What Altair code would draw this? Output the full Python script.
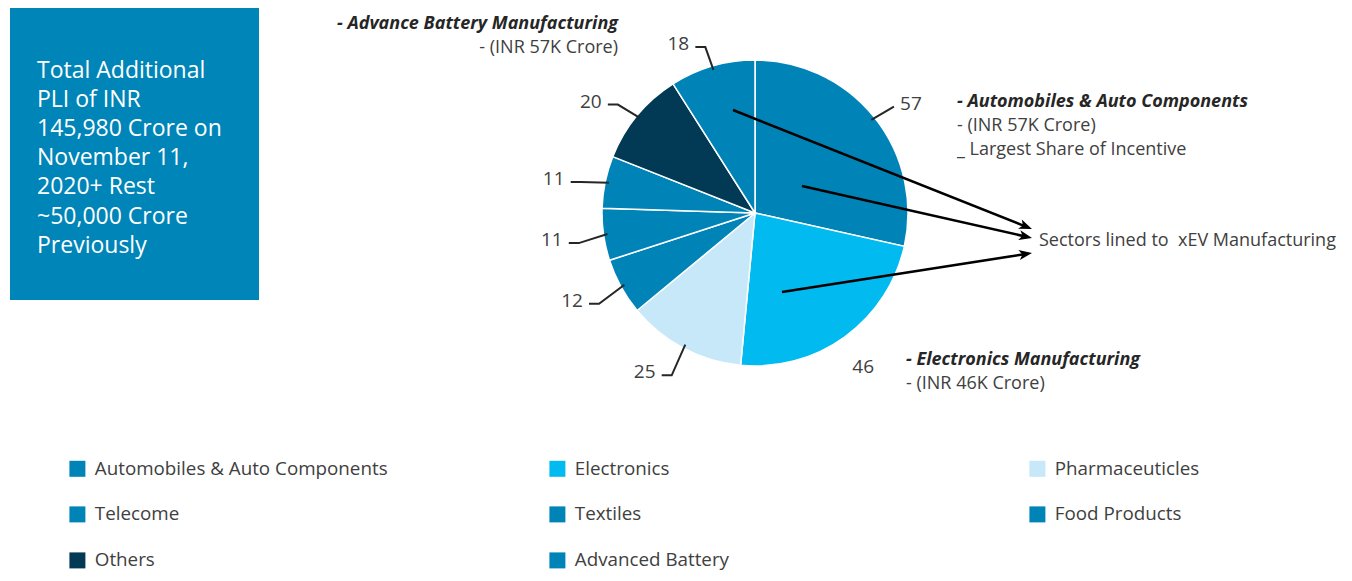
import math
import altair as alt
import pandas as pd

# ---------------- data ----------------
categories = ["Automobiles & Auto Components", "Electronics", "Pharmaceuticles",
              "Telecome", "Textiles", "Food Products", "Others", "Advanced Battery"]
values = [57, 46, 25, 12, 11, 11, 20, 18]
colors = ["#0084B8", "#00BAF0", "#C6E8F8", "#0084B8", "#0084B8", "#0084B8", "#023A56", "#0084B8"]

box_lines = ["Total Additional", "PLI of INR", "145,980 Crore on", "November 11,",
             "2020+ Rest", "~50,000 Crore", "Previously"]

FONT = "Open Sans"
FS = 19
NFS = 18
OFF = 8                      # page margin
W, H = 1336, 565
CX, CY, R = 755 - OFF, 213 - OFF, 153

df = pd.DataFrame({"category": categories, "value": values, "idx": list(range(len(values)))})

# ---------------- value labels + leader lines (derived from the slice angles) ----------------
total = sum(values)
lead_rows, lab_rows = [], []
cum = 0
for c, v in zip(categories, values):
    mid = (cum + v / 2) / total * 2 * math.pi
    cum += v
    s, co = math.sin(mid), -math.cos(mid)
    side = -1 if s < 0 else 1
    if c == "Electronics":
        lab_rows.append({"x": CX + s * 184, "y": CY + co * 184 + 5, "text": str(v)})
        continue
    p1 = (CX + s * 149, CY + co * 149)
    p2 = (CX + s * 178, CY + co * 178 + 5)
    stub = 10 if side < 0 else 0
    p3 = (p2[0] + side * stub, p2[1])
    for k, p in enumerate([p1, p2, p3]):
        lead_rows.append({"category": c, "k": k, "x": p[0], "y": p[1]})
    lab_rows.append({"x": p3[0] + side * 17, "y": p3[1] - 3, "text": str(v)})
lead_df = pd.DataFrame(lead_rows)
lab_df = pd.DataFrame(lab_rows)

# ---------------- annotation arrows ----------------
arrow_start = [(733, 110), (802, 186), (782, 292)]
arrow_tip = [(1032, 229), (1032, 238), (1032, 253)]
arr = []
for (x1, y1), (x2, y2) in zip(arrow_start, arrow_tip):
    ang = math.atan2(y2 - y1, x2 - x1)
    arr.append({"x": x1 - OFF, "y": y1 - OFF,
                "x2": x2 - OFF - 8 * math.cos(ang), "y2": y2 - OFF - 8 * math.sin(ang),
                "tx": x2 - OFF, "ty": y2 - OFF, "angle": math.degrees(ang) % 360})
arr_df = pd.DataFrame(arr)

one = pd.DataFrame({"a": [0]})

# ---------------- layers ----------------
box = alt.Chart(one).mark_rect(color="#0085B8").encode(
    x=alt.value(10 - OFF), x2=alt.value(259 - OFF), y=alt.value(8 - OFF), y2=alt.value(300 - OFF))
box_text = alt.Chart(one).mark_text(
    text=box_lines, align="left", baseline="middle", lineHeight=29.2,
    font=FONT, fontSize=23, color="white").encode(
    x=alt.value(37 - OFF), y=alt.value(70.5 - OFF))

pie = alt.Chart(df).mark_arc(radius=R, stroke="white", strokeWidth=1.5).encode(
    theta=alt.Theta("value:Q", stack=True),
    order=alt.Order("idx:Q"),
    color=alt.Color("category:N", sort=categories,
                    scale=alt.Scale(domain=categories, range=colors),
                    legend=alt.Legend(orient="none", legendX=68 - OFF, legendY=459 - OFF,
                                      direction="horizontal", columns=3, title=None,
                                      symbolType="square",
                                      symbolSize=256, symbolStrokeWidth=0, symbolOpacity=1,
                                      labelFont=FONT, labelFontSize=18.8, labelColor="#404040",
                                      labelOffset=8, labelLimit=500, columnPadding=160,
                                      rowPadding=26, gridAlign="all", padding=0)),
    x=alt.value(CX), y=alt.value(CY))

leaders = alt.Chart(lead_df).mark_line(color="#262626", strokeWidth=2).encode(
    x=alt.X("x:Q", scale=None), y=alt.Y("y:Q", scale=None),
    detail="category:N", order="k:Q")

labels = alt.Chart(lab_df).mark_text(font=FONT, fontSize=FS, color="#404040",
                                     baseline="middle").encode(
    x=alt.X("x:Q", scale=None), y=alt.Y("y:Q", scale=None), text="text:N")

arrows = alt.Chart(arr_df).mark_rule(color="black", strokeWidth=2.5).encode(
    x=alt.X("x:Q", scale=None), y=alt.Y("y:Q", scale=None),
    x2="x2:Q", y2="y2:Q")
heads = alt.Chart(arr_df).mark_point(
    shape="M0,0 L-1,-0.38 L-0.75,0 L-1,0.38 Z", size=676, filled=True,
    color="black", opacity=1, strokeWidth=0).encode(
    x=alt.X("tx:Q", scale=None), y=alt.Y("ty:Q", scale=None),
    angle=alt.Angle("angle:Q", scale=None))


def note(lines, x, y0, align, first_bold=True, step=24):
    layers = []
    for i, t in enumerate(lines):
        bold = first_bold and i == 0
        layers.append(alt.Chart(one).mark_text(
            text=t, align=align, baseline="middle", font=FONT, fontSize=NFS,
            fontWeight="bold" if bold else "normal",
            fontStyle="italic" if bold else "normal",
            color="#262626" if bold else "#404040").encode(
            x=alt.value(x - OFF), y=alt.value(y0 - OFF + i * step)))
    return layers


notes = []
notes += note(["- Advance Battery Manufacturing", "- (INR 57K Crore)"], 618, 23.5, "right")
notes += note(["- Automobiles & Auto Components", "- (INR 57K Crore)",
               "_ Largest Share of Incentive"], 957, 102, "left")
notes += note(["- Electronics Manufacturing", "- (INR 46K Crore)"], 906, 360, "left")
notes += note(["Sectors lined to\u00a0 xEV Manufacturing"], 1039, 241, "left", first_bold=False)

chart = alt.layer(box, box_text, pie, leaders, labels, arrows, heads, *notes).properties(
    width=W, height=H, padding=0, autosize=alt.AutoSizeParams(type="none")
).configure_view(stroke=None)

chart.save("out.html", embed_options={"renderer": "svg", "actions": False})
